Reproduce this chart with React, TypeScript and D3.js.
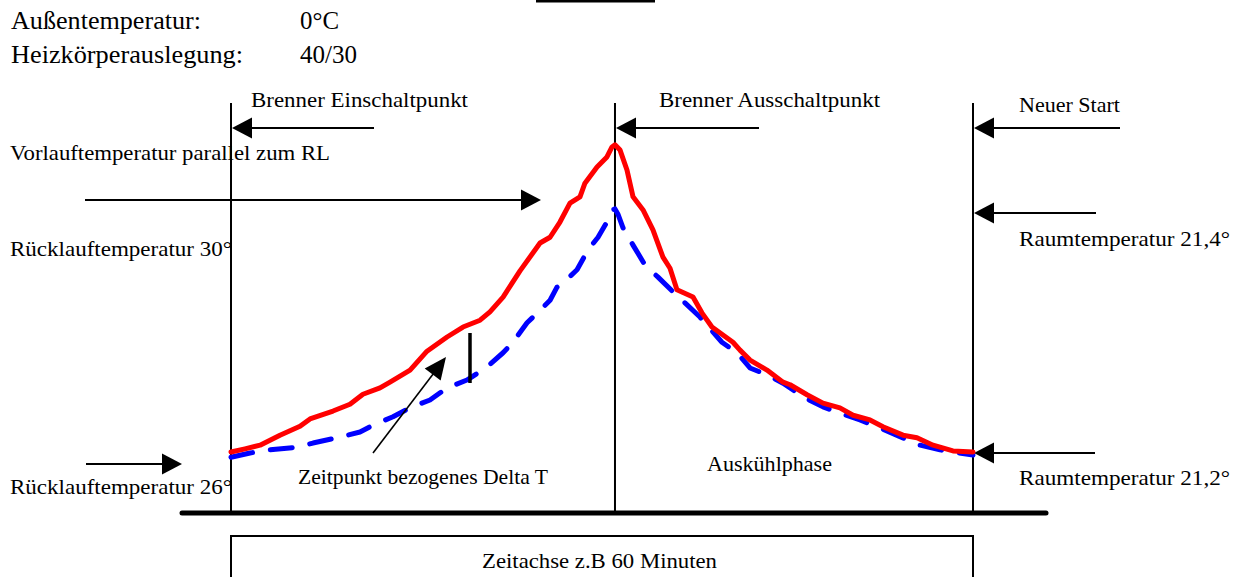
import React from "react";
import * as d3 from "d3";

// ---- data (minutes on the time axis, temperature in °C, schematic) ----
const redMinutes = [0, 1.13, 2.35, 3.96, 5.58, 6.39, 8.25, 9.62, 10.67, 12.05, 12.86, 14.48, 15.85, 17.47, 18.76, 20.14, 20.94, 22.0, 23.37, 24.99, 25.8, 26.6, 27.41, 28.22, 28.62, 29.6, 30.4, 30.81, 31.05, 31.46, 32.02, 32.51, 33.32, 34.12, 34.93, 35.5, 36.06, 37.36, 38.08, 38.89, 40.59, 41.16, 41.97, 43.34, 44.64, 45.21, 46.58, 47.87, 49.24, 50.3, 51.67, 52.72, 54.34, 55.47, 56.77, 58.38, 60];
const redTemps = [26.21, 26.27, 26.34, 26.53, 26.7, 26.84, 26.99, 27.12, 27.31, 27.43, 27.54, 27.77, 28.13, 28.4, 28.59, 28.72, 28.88, 29.16, 29.66, 30.19, 30.3, 30.59, 30.95, 31.07, 31.33, 31.64, 31.83, 32.02, 32.06, 31.96, 31.58, 31.07, 30.82, 30.44, 29.92, 29.71, 29.3, 29.16, 28.86, 28.59, 28.3, 28.15, 27.96, 27.77, 27.54, 27.49, 27.3, 27.14, 27.05, 26.91, 26.82, 26.69, 26.53, 26.48, 26.34, 26.23, 26.21];
const blueMinutes = [0, 1.54, 3.15, 5.34, 6.63, 8.57, 10.43, 11.48, 13.1, 14.47, 16.09, 17.47, 19.08, 20.7, 22.0, 22.8, 23.94, 24.99, 25.8, 26.36, 26.85, 27.98, 28.87, 29.68, 30.4, 30.81, 31.05, 31.29, 31.7, 32.51, 33.48, 34.53, 35.74, 36.71, 37.92, 39.7, 40.92, 41.97, 43.34, 44.64, 46.26, 47.87, 49.24, 50.86, 52.48, 54.1, 55.72, 57.33, 60];
const blueTemps = [26.11, 26.19, 26.25, 26.3, 26.38, 26.48, 26.59, 26.72, 26.88, 27.05, 27.2, 27.43, 27.58, 27.83, 28.1, 28.3, 28.67, 28.91, 29.1, 29.35, 29.43, 29.68, 30.06, 30.3, 30.59, 30.82, 30.84, 30.74, 30.48, 30.15, 29.77, 29.54, 29.26, 29.05, 28.78, 28.3, 28.1, 27.81, 27.68, 27.52, 27.26, 27.07, 26.95, 26.82, 26.67, 26.5, 26.34, 26.25, 26.15];

const eventMinutes = [0, 31.05, 60];
const eventLabels = ["Brenner Einschaltpunkt", "Brenner Ausschaltpunkt", "Neuer Start"];
const headerLabels = ["Außentemperatur:", "Heizkörperauslegung:"];
const headerValues = ["0°C", "40/30"];
const leftLabels = ["Vorlauftemperatur parallel zum RL", "Rücklauftemperatur 30°", "Rücklauftemperatur 26°"];
const rightLabels = ["Raumtemperatur 21,4°", "Raumtemperatur 21,2°"];
const phaseLabels = ["Zeitpunkt bezogenes Delta T", "Auskühlphase"];
const timeAxisLabel = "Zeitachse z.B 60 Minuten";

const W = 1241;
const H = 577;
const FONT = "'Liberation Serif', 'Times New Roman', serif";
const LS = 21.5;
const HS = 25;

const xScale = d3.scaleLinear().domain([0, 60]).range([231, 973]);
const yScale = d3.scaleLinear().domain([26, 30]).range([463, 253]);

type TP = { x: number; y: number; w: number; size?: number; children: string };
function Txt({ x, y, w, size = LS, children }: TP) {
  return (
    <text x={x} y={y} fontSize={size} fontFamily={FONT} fill="#000" textLength={w} lengthAdjust="spacingAndGlyphs">
      {children}
    </text>
  );
}

type AP = { x1: number; y1: number; x2: number; y2: number; len?: number; hw?: number; sw?: number };
function Arrow({ x1, y1, x2, y2, len = 20, hw = 10.5, sw = 2 }: AP) {
  const dx = x2 - x1;
  const dy = y2 - y1;
  const d = Math.hypot(dx, dy);
  const ux = dx / d;
  const uy = dy / d;
  const bx = x2 - ux * len;
  const by = y2 - uy * len;
  const px = -uy;
  const py = ux;
  const pts = [
    [x2, y2],
    [bx + px * hw, by + py * hw],
    [bx - px * hw, by - py * hw],
  ]
    .map((p) => p.join(","))
    .join(" ");
  return (
    <g>
      <line x1={x1} y1={y1} x2={bx + ux * 2} y2={by + uy * 2} stroke="#000" strokeWidth={sw} />
      <polygon points={pts} fill="#000" />
    </g>
  );
}

export default function App() {
  const line = d3
    .line<[number, number]>()
    .x((d) => xScale(d[0]))
    .y((d) => yScale(d[1]))
    .curve(d3.curveLinear);
  const redPath = line(redMinutes.map((m, i) => [m, redTemps[i]] as [number, number])) || "";
  const bluePath = line(blueMinutes.map((m, i) => [m, blueTemps[i]] as [number, number])) || "";

  const xs = eventMinutes.map((m) => xScale(m));
  const axisY = yScale(25.05);

  return (
    <svg width={W} height={H} style={{ position: "absolute", left: 0, top: 0, background: "#fff" }}>
      <rect x={0} y={0} width={W} height={H} fill="#fff" />
      {/* top rule */}
      <rect x={536} y={0} width={119} height={2.5} fill="#000" />

      {/* header */}
      <Txt x={11} y={29} w={190} size={HS}>{headerLabels[0]}</Txt>
      <Txt x={300} y={29} w={39} size={HS}>{headerValues[0]}</Txt>
      <Txt x={11} y={63} w={232} size={HS}>{headerLabels[1]}</Txt>
      <Txt x={300} y={63} w={57} size={HS}>{headerValues[1]}</Txt>

      {/* event vertical lines */}
      {xs.map((x, i) => (
        <line key={i} x1={x} y1={103} x2={x} y2={axisY} stroke="#000" strokeWidth={2} />
      ))}

      {/* event labels and arrows */}
      <Txt x={251} y={107} w={217}>{eventLabels[0]}</Txt>
      <Arrow x1={374} y1={128} x2={xs[0] + 1} y2={128} />
      <Txt x={659} y={107} w={221}>{eventLabels[1]}</Txt>
      <Arrow x1={759} y1={128} x2={xs[1] + 1} y2={128} />
      <Txt x={1019} y={112} w={101}>{eventLabels[2]}</Txt>
      <Arrow x1={1120} y1={128} x2={xs[2] + 1} y2={128} />

      {/* left labels */}
      <Txt x={10} y={160} w={320}>{leftLabels[0]}</Txt>
      <Arrow x1={85} y1={200} x2={541} y2={200} />
      <Txt x={10} y={256} w={222}>{leftLabels[1]}</Txt>
      <Arrow x1={86} y1={464} x2={182} y2={464} />
      <Txt x={10} y={494} w={222}>{leftLabels[2]}</Txt>

      {/* right labels */}
      <Arrow x1={1096} y1={213} x2={xs[2] + 1} y2={213} />
      <Txt x={1019} y={246} w={211}>{rightLabels[0]}</Txt>
      <Arrow x1={1095} y1={453} x2={xs[2] + 1} y2={453} />
      <Txt x={1019} y={485} w={211}>{rightLabels[1]}</Txt>

      {/* curves */}
      <path d={bluePath} fill="none" stroke="#0000ff" strokeWidth={5} strokeDasharray="22 18" strokeLinecap="round" strokeLinejoin="round" />
      <path d={redPath} fill="none" stroke="#ff0000" strokeWidth={5} strokeLinejoin="round" strokeLinecap="round" />

      {/* delta T annotation */}
      <line x1={470} y1={333} x2={470} y2={383} stroke="#000" strokeWidth={3.5} />
      <Arrow x1={373} y1={453} x2={446} y2={357} len={22} hw={10} sw={1.6} />
      <Txt x={298} y={484} w={250}>{phaseLabels[0]}</Txt>
      <Txt x={707} y={471} w={125}>{phaseLabels[1]}</Txt>

      {/* time axis */}
      <line x1={182} y1={axisY} x2={1046} y2={axisY} stroke="#000" strokeWidth={5} strokeLinecap="round" />
      <rect x={xs[0]} y={536} width={xs[2] - xs[0]} height={60} fill="none" stroke="#000" strokeWidth={2} />
      <Txt x={482} y={568} w={235}>{timeAxisLabel}</Txt>
    </svg>
  );
}
